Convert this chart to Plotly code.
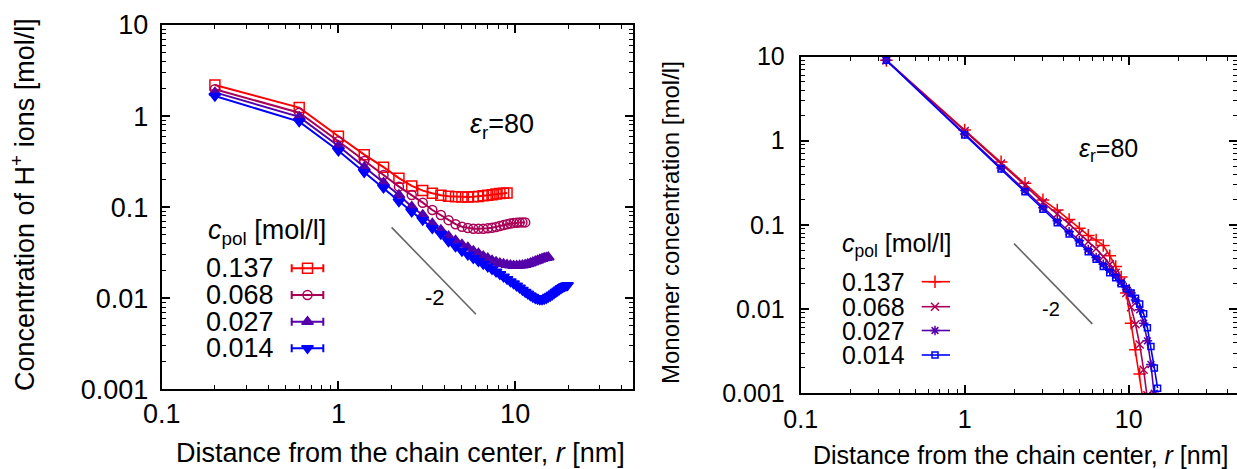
import plotly.graph_objects as go

FONT = "Liberation Sans, Arial, sans-serif"
W, H = 1237, 469

# ---------- left panel: H+ ion concentration ----------
conc_labels = ["0.137", "0.068", "0.027", "0.014"]
colors = ["#ff0000", "#aa0055", "#5500aa", "#0000ff"]

r_h_137 = [round(0.2 + 0.4 * k, 2) for k in range(23)]
h_137 = [2.19, 1.24, 0.60, 0.377, 0.275, 0.208, 0.171, 0.152, 0.142, 0.135, 0.132, 0.130,
         0.129, 0.129, 0.130, 0.131, 0.133, 0.135, 0.137, 0.139, 0.141, 0.142, 0.143]

r_h_068 = [round(0.2 + 0.4 * k, 2) for k in range(29)]
h_068 = [1.97, 1.09, 0.53, 0.321, 0.225, 0.168, 0.136, 0.112, 0.093, 0.082, 0.072, 0.065,
         0.061, 0.059, 0.058, 0.0578, 0.058, 0.0585, 0.0595, 0.0605, 0.062, 0.0635, 0.065,
         0.066, 0.067, 0.0675, 0.068, 0.068, 0.068]

r_h_027 = [round(0.2 + 0.4 * k, 2) for k in range(39)]
h_027 = [1.82, 0.98, 0.47, 0.274, 0.185, 0.136, 0.101, 0.082, 0.066, 0.056, 0.048, 0.043,
         0.039, 0.036, 0.033, 0.031, 0.029, 0.0275, 0.026, 0.025, 0.0242, 0.0237, 0.0233,
         0.023, 0.0228, 0.0228, 0.0229, 0.023, 0.0233, 0.0237, 0.0242, 0.0248, 0.0254,
         0.026, 0.0266, 0.0271, 0.0276, 0.0279, 0.0282]

r_h_014 = [round(0.2 + 0.4 * k, 2) for k in range(50)]
h_014 = [1.66, 0.87, 0.417, 0.241, 0.163, 0.115, 0.089, 0.072, 0.0585, 0.0507, 0.042, 0.037,
         0.033, 0.030, 0.0275, 0.0255, 0.0238, 0.0222, 0.0208, 0.0195, 0.0183, 0.0172,
         0.0162, 0.0153, 0.0145, 0.0137, 0.013, 0.0123, 0.0117, 0.0112, 0.0107, 0.0103,
         0.0100, 0.0098, 0.0097, 0.0097, 0.0098, 0.0100, 0.0103, 0.0106, 0.0109, 0.0113,
         0.0117, 0.0121, 0.0125, 0.0129, 0.0132, 0.0135, 0.0137, 0.0139]

# ---------- right panel: monomer concentration ----------
r_mono = [round((2 * k + 1) / 3, 3) for k in range(23)]
mono_137 = [9.0, 1.34, 0.56, 0.312, 0.198, 0.150, 0.116, 0.091, 0.075, 0.066, 0.057, 0.043,
            0.032, 0.024, 0.0155, 0.0068, 0.0033, 0.0017, 0.00075]
mono_068 = [9.0, 1.30, 0.535, 0.295, 0.185, 0.135, 0.103, 0.079, 0.063, 0.052, 0.042, 0.034,
            0.027, 0.021, 0.0155, 0.0105, 0.0066, 0.0038, 0.0019, 0.00095, 0.0004]
mono_027 = [9.0, 1.20, 0.475, 0.256, 0.160, 0.112, 0.083, 0.065, 0.051, 0.041, 0.034, 0.029,
            0.025, 0.021, 0.018, 0.0155, 0.0128, 0.0098, 0.0068, 0.0042, 0.0022, 0.0010,
            0.0004]
mono_014 = [9.0, 1.17, 0.461, 0.248, 0.153, 0.106, 0.078, 0.061, 0.048, 0.039, 0.032, 0.027,
            0.0235, 0.020, 0.0175, 0.0155, 0.0135, 0.0115, 0.0088, 0.0060, 0.0036, 0.0020,
            0.00115]

# reference power law c ~ r^-2
slope_r = [2.0, 6.0]
slope_prefactor = 0.24

y_ticks = [10, 1, 0.1, 0.01, 0.001]
y_ticktext = ["10", "1", "0.1", "0.01", "0.001"]
x_ticks = [0.1, 1, 10]
x_ticktext = ["0.1", "1", "10"]
x_minor = [m * d for d in (0.1, 1, 10) for m in range(2, 10)]
y_minor = [m * d for d in (0.001, 0.01, 0.1, 1) for m in range(2, 10)]

fig = go.Figure()

left_sets = [(r_h_137, h_137, "square-open", 10),
             (r_h_068, h_068, "circle-open", 9),
             (r_h_027, h_027, "triangle-up", 10),
             (r_h_014, h_014, "triangle-down", 10)]
for (rr, cc, sym, sz), col, lab in zip(left_sets, colors, conc_labels):
    fig.add_trace(go.Scatter(
        x=rr, y=cc, mode="lines+markers", name=lab, showlegend=False,
        line=dict(color=col, width=2),
        marker=dict(symbol=sym, size=sz, color=col, line=dict(color=col, width=1.5)),
        xaxis="x", yaxis="y"))

right_sets = [(mono_137, "cross-thin", 9),
              (mono_068, "x-thin", 8),
              (mono_027, "asterisk", 8),
              (mono_014, "square-open", 6)]
for (cc, sym, sz), col, lab in zip(right_sets, colors, conc_labels):
    fig.add_trace(go.Scatter(
        x=r_mono[:len(cc)], y=cc, mode="lines+markers", name=lab, showlegend=False,
        line=dict(color=col, width=1.6),
        marker=dict(symbol=sym, size=sz, color=col, line=dict(color=col, width=1.5)),
        xaxis="x2", yaxis="y2"))

for xa, ya in (("x", "y"), ("x2", "y2")):
    fig.add_trace(go.Scatter(
        x=slope_r, y=[slope_prefactor / r ** 2 for r in slope_r], mode="lines",
        line=dict(color="#666666", width=1.6), showlegend=False, hoverinfo="skip",
        xaxis=xa, yaxis=ya))


def log_axes(xdom, ydom, xmax_log, fsize, xstand, ystand):
    common = dict(type="log", showline=True, linecolor="black", linewidth=2,
                  mirror="ticks", ticks="inside", tickcolor="black", tickwidth=1.5,
                  ticklen=8, showgrid=False, zeroline=False, automargin=False,
                  tickfont=dict(family=FONT, size=fsize, color="black"))
    xa = dict(common, domain=xdom, range=[-1, xmax_log], tickmode="array",
              tickvals=x_ticks, ticktext=x_ticktext, ticklabelstandoff=xstand,
              minor=dict(tickmode="array", tickvals=x_minor, ticks="inside",
                         ticklen=4, tickcolor="black", tickwidth=1.2, showgrid=False))
    ya = dict(common, domain=ydom, range=[-3, 1], tickmode="array",
              tickvals=y_ticks, ticktext=y_ticktext, ticklabelstandoff=ystand,
              minor=dict(tickmode="array", tickvals=y_minor, ticks="inside",
                         ticklen=4, tickcolor="black", tickwidth=1.2, showgrid=False))
    return xa, ya


xa1, ya1 = log_axes([161.7 / W, 633 / W], [1 - 389.3 / H, 1 - 25 / H], 1.667, 27, -1, 6)
xa2, ya2 = log_axes([800.7 / W, 1.0], [1 - 393.3 / H, 1 - 56.5 / H],
                    -1 + (W - 800.7) / 164, 25, 3, 9)
ya2["anchor"] = "x2"
xa2["anchor"] = "y2"

# pixel-space overlay used for the legend keys
fig.update_layout(
    xaxis=xa1, yaxis=ya1, xaxis2=xa2, yaxis2=ya2,
    xaxis3=dict(domain=[0, 1], range=[0, W], visible=False, anchor="y3",
                automargin=False, fixedrange=True),
    yaxis3=dict(domain=[0, 1], range=[H, 0], visible=False, anchor="x3",
                automargin=False, fixedrange=True),
)

# legend keys, left panel (line with error-bar caps and marker)
left_key_y = [268.3, 295, 321.7, 348.3]
for (rr, cc, sym, sz), col, ky in zip(left_sets, colors, left_key_y):
    fig.add_trace(go.Scatter(
        x=[307.5], y=[ky], mode="markers", showlegend=False, hoverinfo="skip",
        marker=dict(symbol=sym, size=sz, color=col, line=dict(color=col, width=1.5)),
        error_x=dict(type="constant", value=15.8, color=col, thickness=2, width=4),
        xaxis="x3", yaxis="y3"))

# legend keys, right panel (line with marker)
right_key_y = [281.7, 306.7, 330.5, 355]
for (cc, sym, sz), col, ky in zip(right_sets, colors, right_key_y):
    fig.add_trace(go.Scatter(
        x=[921.7, 950], y=[ky, ky], mode="lines", showlegend=False,
        hoverinfo="skip", line=dict(color=col, width=1.6),
        xaxis="x3", yaxis="y3"))
    fig.add_trace(go.Scatter(
        x=[935], y=[ky], mode="markers", showlegend=False, hoverinfo="skip",
        marker=dict(symbol=sym, size=sz, color=col, line=dict(color=col, width=1.5)),
        xaxis="x3", yaxis="y3"))

annotations = []


def text(x, y, s, size, xanchor="left", textangle=0):
    annotations.append(dict(x=x / W, y=1 - y / H, xref="paper", yref="paper", text=s,
                            showarrow=False, xanchor=xanchor, yanchor="middle",
                            textangle=textangle, borderpad=0,
                            font=dict(family=FONT, size=size, color="black")))


# left panel texts
text(207, 232, "<i>c</i><sub>pol</sub> [mol/l]", 27)
for lab, ky in zip(conc_labels, left_key_y):
    text(205, ky, lab, 27)
text(502, 126, "<i>ε</i><sub>r</sub>=80", 27, xanchor="center")
text(435, 297, "-2", 22, xanchor="center")
text(400, 453, "Distance from the chain center, <i>r</i> [nm]", 27, xanchor="center")
text(23, 205, "Concentration of H<sup>+</sup> ions [mol/l]", 27, xanchor="center",
     textangle=-90)

# right panel texts
text(841, 245, "<i>c</i><sub>pol</sub> [mol/l]", 25)
for lab, ky in zip(conc_labels, right_key_y):
    text(841, ky, lab, 25)
text(1108, 150, "<i>ε</i><sub>r</sub>=80", 25, xanchor="center")
text(1051, 309, "-2", 20, xanchor="center")
text(1020, 455, "Distance from the chain center, <i>r</i> [nm]", 25, xanchor="center")
text(670, 223, "Monomer concentration [mol/l]", 24, xanchor="center", textangle=-90)

fig.update_layout(
    width=W, height=H, margin=dict(l=0, r=0, t=0, b=0, pad=0),
    paper_bgcolor="white", plot_bgcolor="rgba(0,0,0,0)",
    showlegend=False, annotations=annotations,
    font=dict(family=FONT, color="black"),
)

fig.write_html("out.html", config={"displayModeBar": False})
